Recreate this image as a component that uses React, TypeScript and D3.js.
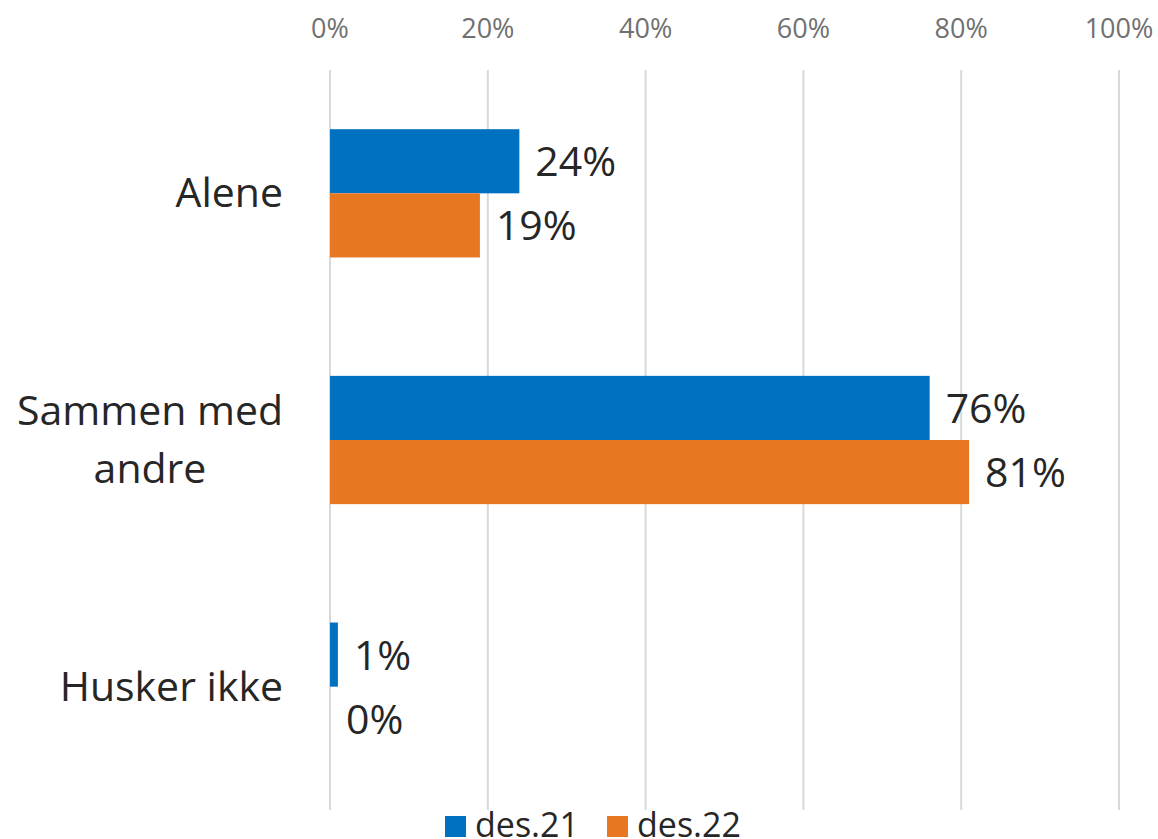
import * as React from 'react';
import * as d3 from 'd3';

const categories = ['Alene', 'Sammen med andre', 'Husker ikke'];
const categoryLines = [['Alene'], ['Sammen med', 'andre'], ['Husker ikke']];
const seriesNames = ['des.21', 'des.22'];
const des21 = [24, 76, 1];
const des22 = [19, 81, 0];
const ticks = [0, 20, 40, 60, 80, 100];
const colors = ['#0070c0', '#e87722'];

const width = 1158;
const height = 839;
const margin = { top: 70, bottom: 29, left: 330, right: 39 };
const font = '"Open Sans", "DejaVu Sans", sans-serif';

export default function App() {
  const x = d3
    .scaleLinear()
    .domain([0, 100])
    .range([margin.left, width - margin.right]);

  const y = d3
    .scaleBand<string>()
    .domain(categories)
    .range([margin.top, height - margin.bottom])
    .paddingInner(0.48)
    .paddingOuter(0.24);

  const inner = d3
    .scaleBand<string>()
    .domain(seriesNames)
    .range([0, y.bandwidth()]);

  const series = [des21, des22];

  return (
    <svg
      width={width}
      height={height}
      style={{ position: 'absolute', left: 0, top: 0, background: '#fff' }}
    >
      {ticks.map(t => (
        <g key={t}>
          <line
            x1={x(t)}
            x2={x(t)}
            y1={margin.top}
            y2={height - margin.bottom}
            stroke="#d9d9d9"
            strokeWidth={2}
          />
          <text
            x={x(t)}
            y={38}
            textAnchor="middle"
            fontFamily={font}
            fontSize={27}
            fill="#707070"
          >
            {t}%
          </text>
        </g>
      ))}

      {categories.map((c, ci) => {
        const lines = categoryLines[ci];
        const cy = (y(c) as number) + y.bandwidth() / 2;
        const lh = 58;
        return (
          <text
            key={c}
            fontFamily={font}
            fontSize={41}
            fill="#262626"
            textAnchor="middle"
          >
            {lines.map((l, li) => (
              <tspan
                key={li}
                x={lines.length > 1 ? 150 : 283}
                textAnchor={lines.length > 1 ? 'middle' : 'end'}
                y={cy + 14 + (li - (lines.length - 1) / 2) * lh}
              >
                {l}
              </tspan>
            ))}
          </text>
        );
      })}

      {series.map((vals, si) =>
        categories.map((c, ci) => {
          const by = (y(c) as number) + (inner(seriesNames[si]) as number);
          const bh = inner.bandwidth();
          return (
            <g key={`${si}-${ci}`}>
              <rect
                x={x(0)}
                y={by}
                width={x(vals[ci]) - x(0)}
                height={bh}
                fill={colors[si]}
              />
              <text
                x={x(vals[ci]) + 16}
                y={by + bh / 2 + 15}
                fontFamily={font}
                fontSize={41}
                fill="#262626"
              >
                {vals[ci]}%
              </text>
            </g>
          );
        })
      )}

      {seriesNames.map((s, si) => {
        const lx = si === 0 ? 445 : 607;
        return (
          <g key={s}>
            <rect x={lx} y={816} width={21} height={21} fill={colors[si]} />
            <text
              x={lx + 30}
              y={837}
              fontFamily={font}
              fontSize={34}
              fill="#262626"
            >
              {s}
            </text>
          </g>
        );
      })}
    </svg>
  );
}
